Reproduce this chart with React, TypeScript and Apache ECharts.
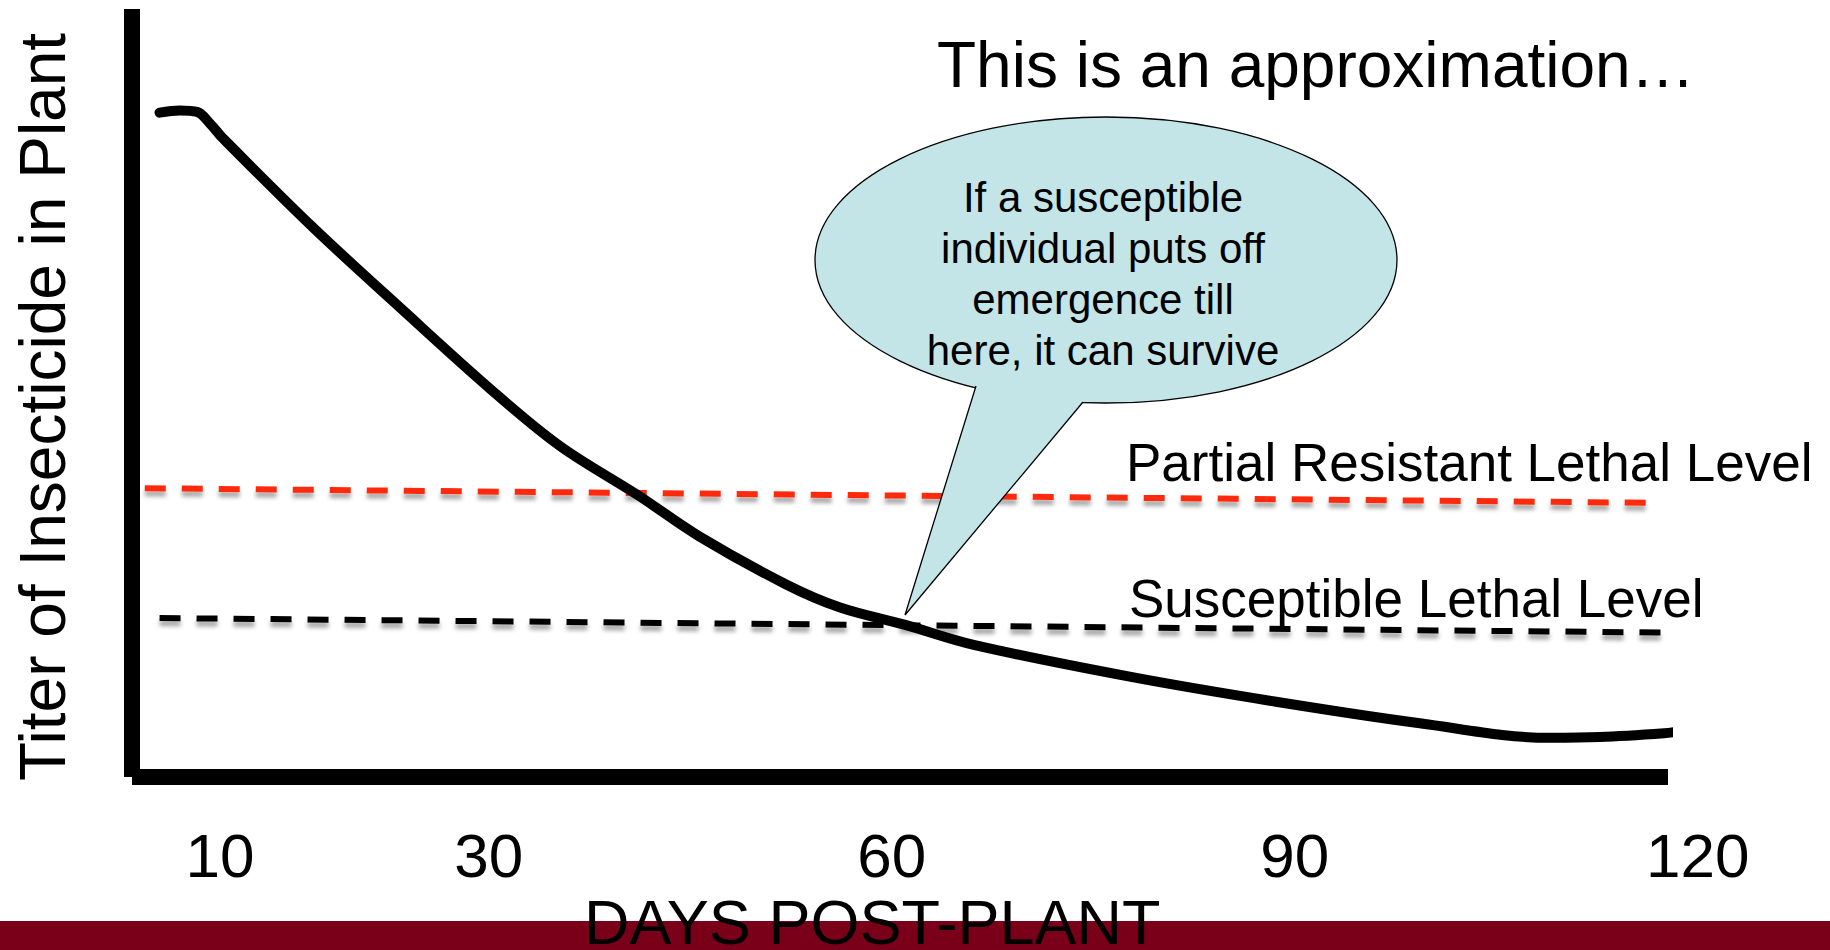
import React, { useEffect, useRef } from 'react';
import * as echarts from 'echarts';

// Titer curve (days post-plant vs. relative titer, 0-100)
const curveDays = [5.5, 7.0, 8.3, 9.3, 10.2, 16.9, 23.6, 30.2, 35.3, 41.1, 45.7, 52.1, 56.1, 61.0, 66.1, 77.9, 88.6, 99.3, 109.0, 112.7, 117.5, 118.4];
const curveTiter = [86.5, 86.8, 86.6, 85.0, 83.2, 71.6, 60.8, 50.4, 43.1, 36.7, 31.3, 25.1, 22.1, 19.8, 17.2, 13.0, 9.8, 7.0, 5.1, 5.2, 5.7, 5.9];

// Lethal levels (start / end)
const partialDays = [4.4, 116.7];
const partialLevel = [37.6, 35.7];
const suscDays = [5.5, 117.8];
const suscLevel = [20.7, 18.8];

// Tick labels on the days axis
const tickLabels = [10, 30, 60, 90, 120];

const title = 'This is an approximation\u2026';
const yTitle = 'Titer of Insecticide in Plant';
const xTitle = 'DAYS POST-PLANT';
const partialName = 'Partial Resistant Lethal Level';
const suscName = 'Susceptible Lethal Level';
const bubbleLines = ['If a susceptible', 'individual puts off', 'emergence till', 'here, it can survive'];

const FONT = "'Liberation Sans', Arial, Helvetica, sans-serif";

const zip = (xs: number[], ys: number[]) => xs.map((x, i) => [x, ys[i]]);

export default function App() {
  const ref = useRef<HTMLDivElement>(null);

  useEffect(() => {
    if (!ref.current) return;
    const chart = echarts.init(ref.current, undefined, { renderer: 'svg' });

    const dashShadow = {
      shadowColor: 'rgba(0,0,0,0.35)',
      shadowBlur: 4,
      shadowOffsetY: 5,
    };

    const option: any = {
      animation: false,
      backgroundColor: '#ffffff',
      grid: [
        { left: 132, right: 162, top: 9, bottom: 173, containLabel: false },
        { left: 85.6, right: 65, top: 9, bottom: 173, containLabel: false },
      ],
      xAxis: [
        {
          type: 'value',
          gridIndex: 0,
          min: 3.45,
          max: 117.77,
          axisLine: { show: true, onZero: false, lineStyle: { color: '#000', width: 16, cap: 'butt' } },
          axisTick: { show: false },
          axisLabel: { show: false },
          splitLine: { show: false },
        },
        {
          type: 'value',
          gridIndex: 1,
          min: 0,
          max: 125,
          interval: 10,
          axisLine: { show: false },
          axisTick: { show: false },
          splitLine: { show: false },
          axisLabel: {
            show: true,
            color: '#000',
            fontSize: 62,
            fontFamily: FONT,
            margin: 47,
            hideOverlap: false,
            showMinLabel: true,
            showMaxLabel: false,
            formatter: (v: number) => (tickLabels.includes(Math.round(v)) ? String(Math.round(v)) : ''),
          },
        },
      ],
      yAxis: [
        {
          type: 'value',
          gridIndex: 0,
          min: 0,
          max: 100,
          axisLine: { show: true, onZero: false, lineStyle: { color: '#000', width: 16, cap: 'butt' } },
          axisTick: { show: false },
          axisLabel: { show: false },
          splitLine: { show: false },
        },
        {
          type: 'value',
          gridIndex: 1,
          min: 0,
          max: 100,
          show: false,
        },
      ],
      series: [
        {
          name: partialName,
          type: 'line',
          xAxisIndex: 0,
          yAxisIndex: 0,
          data: zip(partialDays, partialLevel),
          symbol: 'none',
          clip: false,
          z: 2,
          lineStyle: { color: '#ff2a0a', width: 6, type: [21, 16], cap: 'butt', ...dashShadow },
        },
        {
          name: suscName,
          type: 'line',
          xAxisIndex: 0,
          yAxisIndex: 0,
          data: zip(suscDays, suscLevel),
          symbol: 'none',
          clip: false,
          z: 2,
          lineStyle: { color: '#000', width: 6, type: [21, 16], cap: 'butt', ...dashShadow },
        },
        {
          name: 'Titer',
          type: 'line',
          xAxisIndex: 0,
          yAxisIndex: 0,
          data: zip(curveDays, curveTiter),
          symbol: 'none',
          smooth: 0.35,
          clip: false,
          z: 3,
          lineStyle: { color: '#000', width: 10, cap: 'round', join: 'round' },
        },
      ],
      graphic: [
        {
          type: 'rect',
          z: 100,
          shape: { x: 0, y: 921, width: 1830, height: 29 },
          style: { fill: '#7a0019' },
        },
        {
          type: 'text',
          z: 101,
          x: 584,
          y: 922,
          style: { text: xTitle, fill: '#000', fontSize: 63, fontFamily: FONT, align: 'left', verticalAlign: 'middle' },
        },
        {
          type: 'text',
          z: 101,
          x: 43,
          y: 407,
          rotation: Math.PI / 2,
          style: { text: yTitle, fill: '#000', fontSize: 64, fontFamily: FONT, align: 'center', verticalAlign: 'middle' },
        },
        {
          type: 'text',
          z: 101,
          x: 937,
          y: 65,
          style: { text: title, fill: '#000', fontSize: 64, fontFamily: FONT, align: 'left', verticalAlign: 'middle' },
        },
        {
          type: 'ellipse',
          z: 100,
          shape: { cx: 1106, cy: 260, rx: 291, ry: 143 },
          style: { fill: '#c4e5e7', stroke: '#000', lineWidth: 1.3 },
        },
        {
          type: 'polygon',
          z: 101,
          shape: { points: [[977, 383], [905, 615], [1084, 400]] },
          style: { fill: '#c4e5e7' },
        },
        {
          type: 'polyline',
          z: 102,
          shape: { points: [[976, 386], [905, 615], [1083, 402]] },
          style: { stroke: '#000', lineWidth: 1.3, fill: null },
        },
        {
          type: 'text',
          z: 103,
          x: 1103,
          y: 274,
          style: {
            text: bubbleLines.join('\n'),
            fill: '#000',
            fontSize: 42,
            lineHeight: 51,
            fontFamily: FONT,
            align: 'center',
            verticalAlign: 'middle',
          },
        },
        {
          type: 'text',
          z: 101,
          x: 1126,
          y: 462,
          style: { text: partialName, fill: '#000', fontSize: 53, fontFamily: FONT, align: 'left', verticalAlign: 'middle' },
        },
        {
          type: 'text',
          z: 101,
          x: 1129,
          y: 598,
          style: { text: suscName, fill: '#000', fontSize: 53, fontFamily: FONT, align: 'left', verticalAlign: 'middle' },
        },
      ],
    };

    chart.setOption(option);
    return () => chart.dispose();
  }, []);

  return (
    <div
      ref={ref}
      style={{ position: 'fixed', left: 0, top: 0, width: 1830, height: 950, background: '#fff' }}
    />
  );
}
